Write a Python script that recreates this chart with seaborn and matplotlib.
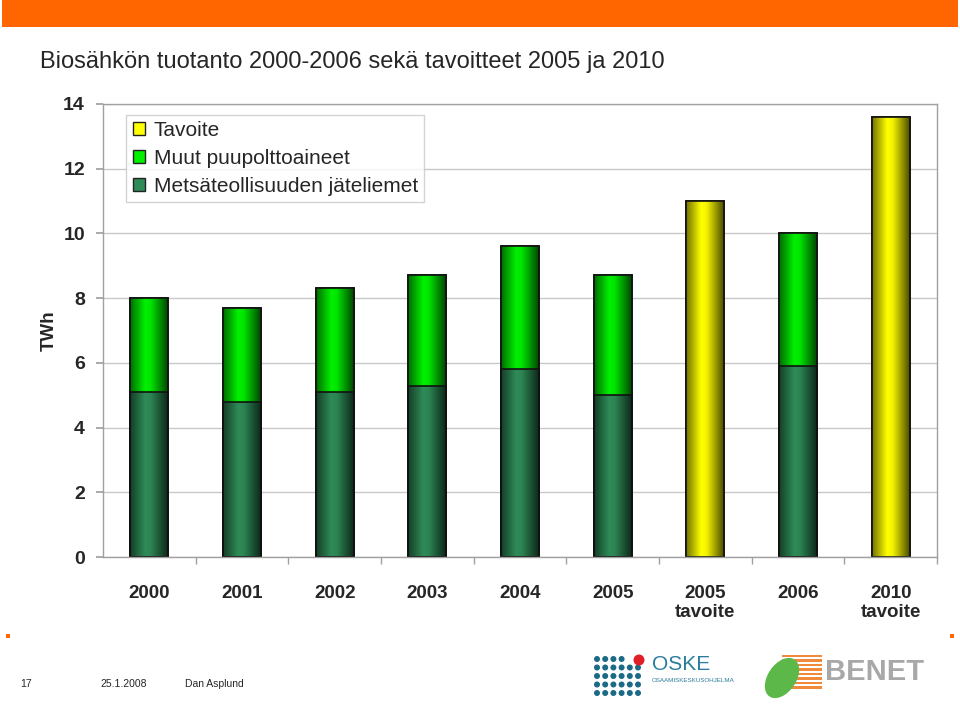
import numpy as np
import pandas as pd
import seaborn as sns
import matplotlib
matplotlib.use('Agg')
import matplotlib.pyplot as plt
from matplotlib.patches import Patch, Ellipse, Rectangle
from matplotlib.colors import to_rgb

# Data (TWh)
categories = ['2000', '2001', '2002', '2003', '2004', '2005', '2005\ntavoite', '2006', '2010\ntavoite']
jateliemet = [5.1, 4.8, 5.1, 5.3, 5.8, 5.0, None, 5.9, None]
muut = [2.9, 2.9, 3.2, 3.4, 3.8, 3.7, None, 4.1, None]
tavoite = [None, None, None, None, None, None, 11.0, None, 13.6]

TITLE = 'Biosähkön tuotanto 2000-2006 sekä tavoitteet 2005 ja 2010'
LEGEND_LABELS = ['Tavoite', 'Muut puupolttoaineet', 'Metsäteollisuuden jäteliemet']
COL_YELLOW = '#ffff00'
COL_GREEN = '#00f000'
COL_DARK = '#2e8b57'

df = pd.DataFrame({'cat': categories, 'jate': jateliemet, 'muut': muut, 'tav': tavoite})
df['total'] = df['jate'] + df['muut']

sns.set_theme(style='white')
plt.rcParams['font.family'] = ['Liberation Sans', 'DejaVu Sans']

fig = plt.figure(figsize=(9.6, 7.06), dpi=100)
ax = fig.add_axes([103 / 960, 1 - 557 / 706, 834 / 960, 453 / 706])

W = 0.41
prod = df.dropna(subset=['jate'])
targ = df.dropna(subset=['tav'])
sns.barplot(data=prod, x='cat', y='total', order=categories, color=COL_GREEN,
            width=W, edgecolor='#111111', linewidth=1.2, saturation=1, ax=ax)
sns.barplot(data=prod, x='cat', y='jate', order=categories, color=COL_DARK,
            width=W, edgecolor='#111111', linewidth=1.2, saturation=1, ax=ax)
sns.barplot(data=targ, x='cat', y='tav', order=categories, color=COL_YELLOW,
            width=W, edgecolor='#111111', linewidth=1.2, saturation=1, ax=ax)

# cylinder-like horizontal shading on each bar
t = np.linspace(0, 1, 64)
shade = np.interp(t, [0, 0.4, 0.55, 1], [0.45, 1.0, 0.95, 0.3])
for p in list(ax.patches):
    base = np.array(to_rgb(p.get_facecolor()))
    img = np.clip(shade[None, :, None] * base[None, None, :], 0, 1)
    x0, y0 = p.get_x(), p.get_y()
    im = ax.imshow(img, extent=[x0, x0 + p.get_width(), y0, y0 + p.get_height()],
                   aspect='auto', zorder=p.get_zorder() + 0.1, interpolation='bilinear')
    im.set_clip_path(p)
    edge = Rectangle((x0, y0), p.get_width(), p.get_height(), fill=False,
                     edgecolor='#111111', linewidth=1.2, zorder=p.get_zorder() + 0.2)
    ax.add_patch(edge)

ax.set_xlim(-0.5, len(categories) - 0.5)
ax.set_ylim(0, 14)
ax.set_yticks(range(0, 15, 2))
ax.yaxis.grid(True, color='#c8c8c8', linewidth=1)
ax.set_axisbelow(True)
for s in ax.spines.values():
    s.set_color('#a0a0a0')
    s.set_linewidth(1)
ax.tick_params(axis='y', left=True, length=5, color='#a0a0a0', pad=8, labelsize=14)
ax.tick_params(axis='x', bottom=False, pad=14, labelsize=13.5)
for lab in ax.get_xticklabels() + ax.get_yticklabels():
    lab.set_fontweight('bold')
ax.set_xticks(np.arange(len(categories)) + 0.5, minor=True)
ax.tick_params(axis='x', which='minor', bottom=True, length=5, color='#a0a0a0')
ax.set_xlabel('')
ax.set_ylabel('TWh', fontsize=13.5, fontweight='bold', labelpad=4)

handles = [Patch(facecolor=c, edgecolor='#222222', linewidth=1) for c in (COL_YELLOW, COL_GREEN, COL_DARK)]
leg = ax.legend(handles, LEGEND_LABELS, loc='upper left', bbox_to_anchor=(0.0156, 0.999),
                fontsize=15, frameon=True, fancybox=False, handlelength=0.6, handleheight=0.6,
                handletextpad=0.4, labelspacing=0.42, borderpad=0.3)
leg.get_frame().set_edgecolor('#c8c8c8')
leg.get_frame().set_linewidth(1)

# slide decorations
fig.patches.append(Rectangle((2 / 960, 1 - 27 / 706), 956 / 960, 27 / 706, transform=fig.transFigure,
                             facecolor='#ff6600', edgecolor='none'))
fig.text(40 / 960, 1 - 62 / 706, TITLE, fontsize=17, va='center', ha='left')
for xp in (8, 952):
    fig.patches.append(Rectangle((xp / 960 - 2 / 960, 1 - 638 / 706), 4 / 960, 4 / 706,
                                 transform=fig.transFigure, facecolor='#ff6600', edgecolor='none'))
fig.text(20 / 960, 1 - 684 / 706, '17', fontsize=7.5, va='center')
fig.text(100 / 960, 1 - 684 / 706, '25.1.2008', fontsize=7.5, va='center')
fig.text(185 / 960, 1 - 684 / 706, 'Dan Asplund', fontsize=7.5, va='center')

# OSKE logo
for r in range(5):
    for c in range(6):
        if r == 0 and c >= 4:
            continue
        fig.patches.append(Ellipse(((597 + c * 8.2) / 960, 1 - (659 + r * 8.5) / 706), 6 / 960, 6 / 706,
                                   transform=fig.transFigure, facecolor='#1b6a86', edgecolor='none'))
fig.patches.append(Ellipse((639 / 960, 1 - 660 / 706), 11 / 960, 11 / 706, transform=fig.transFigure,
                           facecolor='#e01f26', edgecolor='none'))
fig.text(652 / 960, 1 - 664 / 706, 'OSKE', fontsize=15, color='#2b7d9c', va='center')
fig.text(652 / 960, 1 - 681 / 706, 'OSAAMISKESKUSOHJELMA', fontsize=4.5, color='#2b7d9c', va='center')

# BENET logo
for i in range(8):
    fig.patches.append(Rectangle((782 / 960, 1 - (657 + i * 4.5) / 706), 40 / 960, 2.5 / 706,
                                 transform=fig.transFigure, facecolor='#f08a3c', edgecolor='none'))
fig.patches.append(Ellipse((782 / 960, 1 - 678 / 706), 30 / 960, 42 / 706, angle=-20, transform=fig.transFigure,
                           facecolor='#5db84a', edgecolor='none'))
fig.text(825 / 960, 1 - 672 / 706, 'BENET', fontsize=21, fontweight='bold', color='#a8a8a8',
         va='center', family=['Liberation Sans Narrow', 'Liberation Sans', 'DejaVu Sans'])

fig.savefig('out.png', dpi=100)
